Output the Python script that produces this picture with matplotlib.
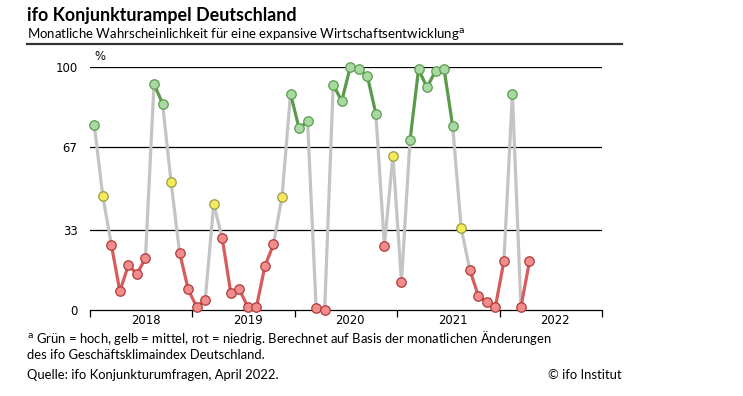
import matplotlib
matplotlib.use("Agg")
import matplotlib.pyplot as plt
from matplotlib.lines import Line2D

# monthly values Jan 2018 - Apr 2022
werte = [76.3, 46.9, 26.9, 7.7, 18.5, 14.8, 21.3, 93.1, 84.9, 52.7, 23.6, 8.6,
         1.2, 4.1, 43.5, 29.5, 6.9, 8.5, 1.2, 1.2, 18.1, 27.0, 46.6, 89.0,
         74.8, 77.6, 0.8, 0.1, 92.7, 86.0, 100.0, 99.0, 96.3, 80.8, 26.5, 63.5,
         11.5, 69.8, 99.0, 91.6, 98.5, 99.0, 75.7, 33.7, 16.6, 5.9, 3.3, 1.2,
         20.0, 88.9, 1.2, 20.0]
klasse = ["g", "y", "r", "r", "r", "r", "r", "g", "g", "y", "r", "r",
          "r", "r", "y", "r", "r", "r", "r", "r", "r", "r", "y", "g",
          "g", "g", "r", "r", "g", "g", "g", "g", "g", "g", "r", "y",
          "r", "g", "g", "g", "g", "g", "g", "y", "r", "r", "r", "r",
          "r", "g", "r", "r"]
jahre = ["2018", "2019", "2020", "2021", "2022"]
yticks = [0, 33, 67, 100]

fill = {"g": "#a8d9a0", "y": "#f4ea5c", "r": "#f08c8c"}
edge = {"g": "#5c9c52", "y": "#9c9a4c", "r": "#b23a3a"}
linie = {"g": "#5a9a4a", "y": "#c4c4c4", "r": "#d95c5c"}
grau = "#c4c4c4"

W, H = 743, 396
fig = plt.figure(figsize=(W / 100, H / 100), dpi=100)
ax = fig.add_axes([90 / W, 1 - 310 / H, (602 - 90) / W, (310 - 67) / H])

x = list(range(len(werte)))

# line segments: colored if both ends share a class, grey otherwise
for i in range(len(werte) - 1):
    if klasse[i] == klasse[i + 1]:
        c = linie[klasse[i]]
        z = 3
    else:
        c = grau
        z = 2
    ax.plot(x[i:i + 2], werte[i:i + 2], color=c, lw=2.3, zorder=z,
            solid_capstyle="round", clip_on=False)

for k in ["g", "y", "r"]:
    xs = [xi for xi, kk in zip(x, klasse) if kk == k]
    ys = [v for v, kk in zip(werte, klasse) if kk == k]
    ax.plot(xs, ys, "o", ms=6.8, mfc=fill[k], mec=edge[k], mew=0.9,
            zorder=5, clip_on=False, linestyle="none")

for yv in yticks[1:]:
    ax.axhline(yv, color="black", lw=0.9, zorder=1)

ax.set_xlim(-0.5, 59.5)
ax.set_ylim(0, 100)
for s in ["top", "right", "left"]:
    ax.spines[s].set_visible(False)
ax.spines["bottom"].set_linewidth(0.9)

ax.set_xticks([-0.5 + 12 * i for i in range(6)])
ax.set_xticklabels([])
ax.tick_params(axis="x", which="major", length=5, width=0.9, direction="out")
ax.set_xticks([6 + 12 * i for i in range(5)], minor=True)
ax.set_xticklabels(jahre, minor=True)
ax.tick_params(axis="x", which="minor", length=0, pad=3, labelsize=8.4)

ax.set_yticks(yticks)
ax.set_yticklabels([str(v) for v in yticks])
ax.tick_params(axis="y", length=0, pad=9, labelsize=8.4)

ax.text(0.7, 104.5, "%", fontsize=8.4, ha="center", va="center")

schrift = "Lato"
fig.text(27 / W, 1 - 15 / H, "ifo Konjunkturampel Deutschland", fontsize=12.9,
         fontweight="bold", family=schrift, va="center", ha="left")
fig.text(27 / W, 1 - 34 / H,
         "Monatliche Wahrscheinlichkeit für eine expansive Wirtschaftsentwicklung$^{\\mathrm{a}}$",
         fontsize=9.5, family=schrift, va="center", ha="left")
fig.add_artist(Line2D([27 / W, 622 / W], [1 - 44 / H, 1 - 44 / H],
                      color="#333333", lw=1.6))

fig.text(27 / W, 1 - 338 / H,
         "$^{\\mathrm{a}}$ Grün = hoch, gelb = mittel, rot = niedrig. Berechnet auf Basis der monatlichen Änderungen",
         fontsize=9.4, family=schrift, va="center", ha="left")
fig.text(27 / W, 1 - 355 / H, "des ifo Geschäftsklimaindex Deutschland.",
         fontsize=9.4, family=schrift, va="center", ha="left")
fig.text(27 / W, 1 - 375 / H, "Quelle: ifo Konjunkturumfragen, April 2022.",
         fontsize=9.4, family=schrift, va="center", ha="left")
fig.text(622 / W, 1 - 375 / H, "© ifo Institut",
         fontsize=9.4, family=schrift, va="center", ha="right")

fig.savefig("out.png", dpi=100, facecolor="white")
